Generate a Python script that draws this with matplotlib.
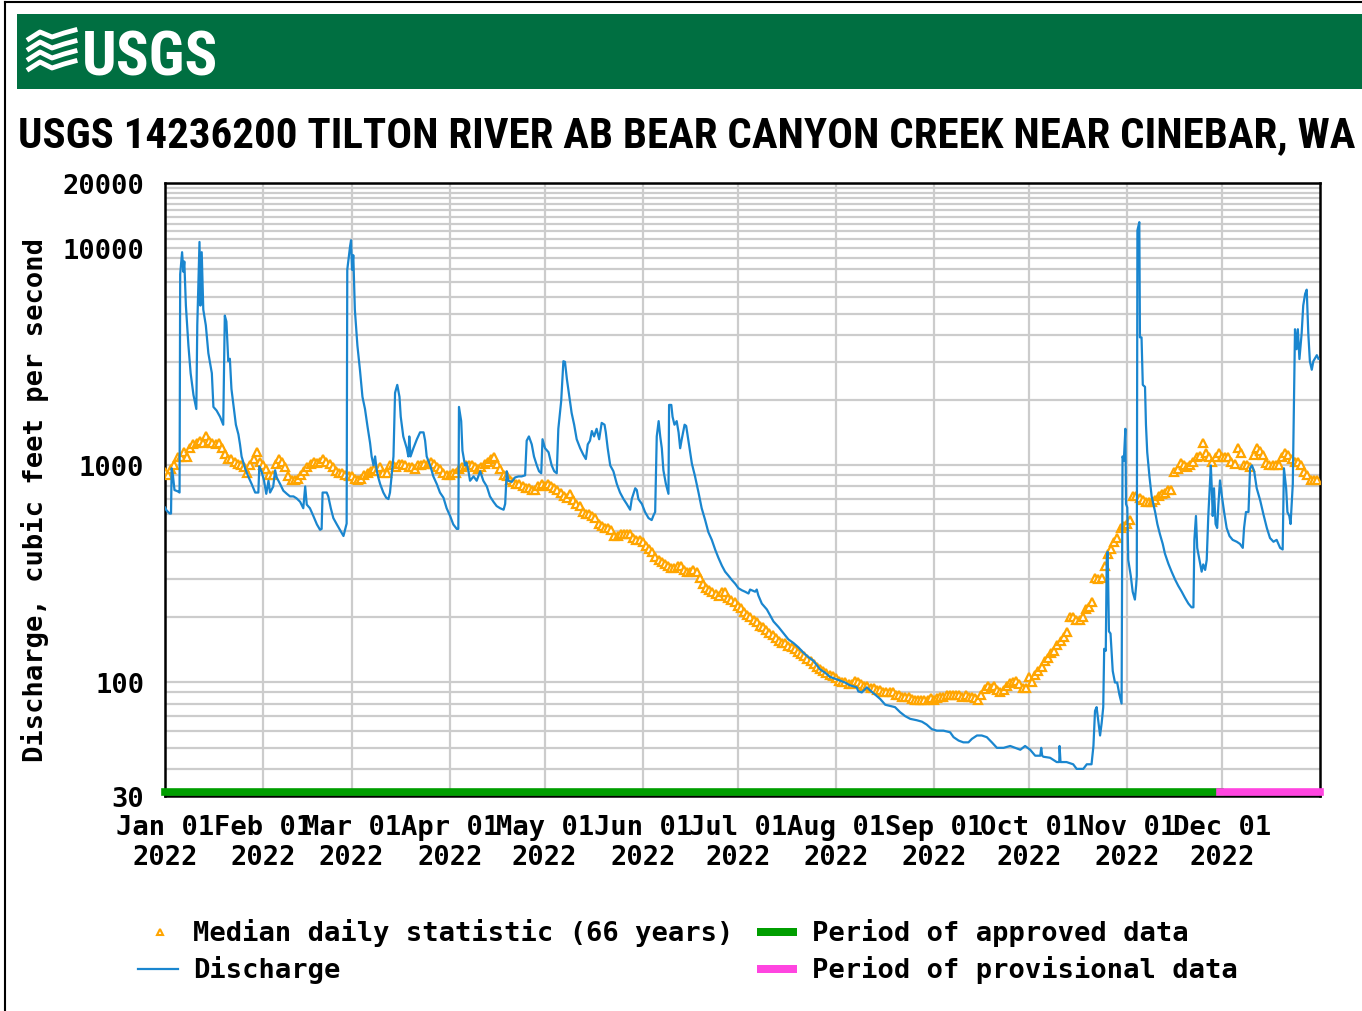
import numpy as np
import matplotlib
matplotlib.use('Agg')
import matplotlib.pyplot as plt
from matplotlib.lines import Line2D
from matplotlib.patches import Rectangle
from matplotlib.transforms import blended_transform_factory
from matplotlib import font_manager as fm

# ---- data ----
title = "USGS 14236200 TILTON RIVER AB BEAR CANYON CREEK NEAR CINEBAR, WA"
y_label = "Discharge, cubic feet per second"
start = np.datetime64('2022-01-01T00:00')
end = np.datetime64('2023-01-01T00:00')
approved_end = np.datetime64('2022-11-30T12:00')

# median daily statistic (66 years), one value per day from Jan 1
median_cfs = [
    930, 900, 960, 1000, 1090, 1090, 1150, 1090, 1200, 1250,
    1270, 1300, 1270, 1360, 1300, 1270, 1250, 1270, 1200, 1130,
    1065, 1065, 1040, 1020, 1000, 980, 920, 1000, 1065, 1150,
    1040, 1000, 960, 900, 900, 1020, 1065, 1040, 980, 890,
    853, 853, 870, 900, 940, 980, 1020, 1040, 1030, 1040,
    1065, 1040, 1020, 980, 940, 920, 920, 900, 890, 890,
    870, 853, 870, 900, 920, 940, 960, 940, 980, 920,
    920, 1000, 1000, 980, 1020, 1020, 1000, 980, 980, 960,
    1000, 1000, 1020, 1020, 1040, 1020, 980, 960, 920, 900,
    900, 920, 920, 960, 980, 1000, 1000, 1000, 980, 960,
    980, 1020, 1040, 1065, 1090, 1020, 960, 900, 890, 853,
    835, 818, 818, 800, 790, 785, 770, 770, 800, 818,
    800, 818, 800, 785, 770, 750, 720, 710, 740, 690,
    665, 650, 610, 600, 597, 585, 570, 537, 525, 515,
    515, 505, 473, 473, 483, 483, 483, 483, 463, 454,
    454, 445, 427, 410, 400, 380, 367, 360, 350, 345,
    338, 338, 345, 345, 330, 324, 324, 330, 324, 304,
    285, 272, 268, 262, 257, 251, 262, 262, 246, 241,
    236, 226, 220, 212, 204, 200, 195, 190, 183, 180,
    175, 169, 165, 160, 155, 152, 152, 148, 145, 142,
    138, 135, 133, 128, 125, 122, 118, 115, 113, 111,
    108, 107, 105, 102, 100, 100, 98, 98, 102, 100,
    98, 96, 96, 94, 94, 92, 92, 90, 90, 90,
    90, 88, 88, 86, 86, 86, 84, 83, 83, 83,
    83, 83, 85, 83, 85, 86, 86, 88, 88, 88,
    88, 88, 86, 88, 86, 86, 85, 83, 88, 93,
    96, 94, 96, 92, 90, 92, 96, 99, 100, 102,
    98, 94, 94, 106, 100, 108, 113, 118, 126, 130,
    137, 140, 149, 155, 162, 170, 200, 200, 195, 195,
    200, 217, 222, 236, 304, 300, 304, 345, 392, 410,
    445, 463, 515, 525, 537, 560, 720, 720, 710, 690,
    680, 680, 680, 690, 720, 740, 750, 770, 770, 930,
    960, 1030, 1000, 980, 1000, 1040, 1090, 1100, 1270, 1145,
    1090, 1040, 1090, 1145, 1090, 1090, 1090, 1040, 1020, 1200,
    1145, 1000, 1000, 980, 1120, 1200, 1170, 1120, 1030, 1000,
    1000, 1000, 1000, 1090, 1145, 1120, 1065, 1040, 1040, 1000,
    930, 900, 853, 853, 853,
]

# discharge: (days since Jan 1, cfs)
q_day = [
    0.0, 0.5, 1.5, 1.9, 2.1, 2.5, 3.0, 4.0, 4.6, 4.8, 5.4, 5.8, 6.1, 6.6, 7.4,
    8.1, 9.0, 9.9, 10.2, 10.9, 11.2, 11.6, 12.1, 12.9, 13.7, 14.8, 15.3, 16.3,
    17.4, 18.4, 18.9, 19.4, 20.0, 20.5, 21.0, 21.8, 22.4, 23.2, 23.7, 24.2,
    25.3, 26.3, 27.4, 28.5, 29.5, 29.8, 30.6, 31.3, 32.0, 32.7, 33.2, 34.2,
    34.8, 35.3, 36.4, 37.4, 38.5, 39.5, 40.6, 41.6, 42.7, 43.7, 44.3, 44.8,
    45.8, 46.9, 48.0, 49.0, 49.5, 49.8, 51.1, 51.6, 52.4, 53.2, 54.3, 55.3,
    56.4, 56.9, 57.4, 57.6, 58.5, 58.8, 59.1, 59.5, 60.0, 60.8, 61.6, 62.4,
    63.2, 64.0, 64.8, 65.3, 65.9, 66.4, 66.9, 67.5, 68.0, 69.0, 69.9, 70.6,
    71.1, 72.2, 72.7, 73.4, 74.1, 74.5, 75.3, 76.4, 76.9, 77.2, 77.6, 78.5,
    79.6, 80.6, 81.7, 82.2, 82.7, 83.8, 84.8, 85.9, 86.9, 88.0, 89.0, 90.1,
    91.1, 92.2, 92.7,
    92.9, 93.6, 94.0, 94.8, 95.3, 95.9, 96.4, 97.5, 98.5, 99.6, 100.6, 101.7,
    102.7, 103.8, 104.8, 105.9, 107.0, 107.5, 108.0, 108.5, 109.6, 110.6,
    111.7, 112.7, 113.8, 114.3, 115.0, 115.9, 116.6, 117.5, 118.2, 118.9,
    119.3, 120.1, 121.2, 122.2, 123.0, 123.8, 124.3, 125.2, 125.9, 126.4,
    127.0, 127.7, 128.5, 129.3, 130.1, 131.2, 132.2, 133.0, 133.6, 134.3,
    134.9, 135.6, 136.4, 137.2, 138.0, 138.9, 139.3, 139.9, 140.7, 141.7,
    142.8, 143.8, 144.9, 145.9, 147.0, 147.5, 148.6, 149.1, 149.6, 150.7,
    151.7, 152.8, 153.8, 154.4, 154.9, 155.4, 156.0, 156.5, 157.0, 157.5,
    158.3, 159.1, 159.3, 160.0, 160.4, 161.0, 161.7, 162.3, 162.8, 163.3,
    164.2, 164.7, 165.4, 166.5, 167.5, 168.6, 169.6, 170.7, 171.7, 172.8,
    173.9, 174.9, 176.0, 177.0, 178.1, 179.1, 180.2, 181.2, 182.3, 183.3,
    184.4,
    184.9, 186.5, 187.0, 187.5, 188.6, 190.2, 191.2, 192.3, 193.9, 195.4,
    197.0, 198.6, 200.2, 201.8, 203.3, 204.9, 206.0, 207.0, 208.6, 210.2,
    211.8, 213.3, 214.9, 216.5, 218.6, 219.1, 220.2, 221.8, 222.8, 224.4,
    226.0, 227.6, 229.2, 230.7, 232.3, 233.9, 235.5, 237.6, 239.2, 240.7,
    242.3, 243.9, 246.0, 248.1, 249.2, 250.8, 252.3, 253.9, 255.0, 256.6,
    258.1, 259.7, 261.3, 262.9, 265.0, 267.1, 268.7, 270.3, 271.8, 273.4,
    275.0, 276.6, 276.9, 277.2, 277.6,
    279.7, 281.8, 282.6, 282.7, 283.0, 284.9, 287.0, 288.1, 290.2, 291.3,
    292.8, 293.4, 293.9, 294.4, 294.9, 295.5, 296.0, 296.5, 296.8, 297.3,
    297.6, 297.9, 298.3, 298.8, 299.5, 300.2, 300.9, 301.6, 302.3, 302.6,
    303.0, 303.5, 303.7, 304.1, 304.4, 305.2, 305.8, 306.5, 306.9, 307.1,
    307.3, 307.6, 307.9, 308.1, 308.6, 309.0, 309.7, 310.0, 310.4, 311.1,
    311.8, 312.9, 313.6, 314.4, 315.3, 316.0, 317.1, 318.1, 319.2, 320.2,
    321.3, 322.3, 323.4, 324.4, 325.0, 325.3, 325.8, 326.2, 326.9, 327.6,
    328.1, 328.7, 329.2, 329.7, 330.5, 330.8, 331.1, 331.5, 332.0, 332.5,
    332.9, 333.4, 334.0, 334.7, 335.5, 336.4, 337.4, 338.7, 339.7, 340.6,
    341.0, 341.6, 342.4, 342.9, 343.5, 344.2, 345.0, 346.1, 347.1, 348.2,
    349.2, 350.3, 351.3, 352.4, 353.2, 353.6, 354.3, 354.7, 355.3, 355.7,
    356.4, 357.1, 357.6, 358.0, 358.5, 359.2, 359.7, 360.3, 360.8, 361.3,
    361.8, 362.4, 362.9, 364.0, 364.5,
]
q_cfs = [
    640, 620, 600, 600, 970, 900, 770, 760, 750, 7600, 9600, 7800, 8700, 5450, 3570,
    2660, 2110, 1820, 4420, 10700, 5450, 9600, 5220, 4420, 3290, 2660, 1860, 1790,
    1675, 1540, 4900, 4600, 3020, 3100, 2250, 1820, 1540, 1390, 1250, 1100,
    970, 890, 820, 750, 750, 990, 930, 850, 740, 850, 750, 800,
    950, 880, 820, 765, 740, 720, 720, 705, 680, 635, 800, 660,
    635, 584, 535, 505, 510, 750, 750, 720, 635, 572, 535, 505,
    473, 505, 540, 7970, 10250, 10900, 7970, 9300, 5220, 3570, 2760, 2070,
    1820, 1510, 1270, 1100, 1000, 1100, 950, 870, 820, 750, 710, 700,
    750, 1100, 2160, 2350, 2070, 1675, 1360, 1200, 1100, 1360, 1100, 1200,
    1320, 1420, 1420, 1300, 1100, 1000, 890, 820, 750, 710, 635, 585,
    535, 510, 510,
    1860, 1600, 1170, 1000, 1030, 940, 850, 890, 850, 940, 850, 800,
    720, 680, 650, 635, 625, 665, 940, 850, 840, 880,
    890, 890, 900, 1300, 1360, 1250, 1100, 1000, 940, 920,
    1320, 1200, 1150, 1000, 940, 920, 1475, 1980, 3020, 3000,
    2500, 2110, 1745, 1540, 1320, 1200, 1120, 1070, 1250, 1300,
    1440, 1360, 1475, 1320, 1570, 1540, 1420, 1200, 1000, 940,
    820, 750, 700, 665, 625, 700, 785, 770, 700, 665,
    610, 572, 560, 590, 610, 1360, 1600, 1360, 1200, 950,
    820, 740, 1900, 1900, 1675, 1540, 1600, 1420, 1200, 1320,
    1540, 1520, 1300, 1020, 890, 750, 635, 560, 493, 454,
    408, 375, 345, 324, 310, 297, 285, 272, 266, 262,
    257,
    268, 262, 268, 252, 231, 217, 204, 191, 180, 169,
    158, 152, 145, 137, 131, 126, 120, 115, 111, 106,
    104, 102, 100, 97, 95, 91, 90, 95, 92, 88,
    84, 79, 78, 77, 73, 70, 68, 67, 66, 64,
    61, 60, 60, 59, 56, 54, 53, 53, 55, 57,
    57, 56, 53, 50, 50, 51, 50, 49, 51, 49,
    46, 46, 50, 46, 45.5,
    45, 43, 43, 51, 43, 43, 42, 40, 40, 42,
    42, 51, 74, 77, 67, 57, 65, 77, 143, 140,
    367, 400, 172, 168, 113, 100, 100, 88, 80, 1100,
    1050, 1475, 664, 640, 367, 310, 262, 241, 280, 310,
    12100, 12650, 13200, 3890, 3890, 2350, 2300, 1540, 1150, 890,
    720, 610, 537, 483, 435, 392, 352, 324, 298, 279,
    262, 246, 231, 222, 222, 454, 585, 417, 367, 324,
    350, 330, 367, 585, 1000, 785, 585, 785, 537, 515,
    664, 853, 720, 610, 515, 473, 454, 445, 435, 417,
    515, 610, 610, 970, 1000, 940, 785, 690, 597, 515,
    463, 445, 454, 417, 410, 970, 785, 610, 585, 537,
    820, 4240, 3430, 4240, 3090, 4060, 5450, 6170, 6450, 4060,
    3020, 2760, 3020, 3220, 3100,
]

y_major = [30, 100, 1000, 10000, 20000]
y_minor = [40, 50, 60, 70, 80, 90,
           200, 300, 400, 500, 600, 700, 800, 900,
           2000, 3000, 4000, 5000, 6000, 7000, 8000, 9000,
           11000, 12000, 13000, 14000, 15000, 16000, 17000, 18000, 19000]

# ---- styling ----
W, H = 1362, 1012
plt.rcParams['font.family'] = ['DejaVu Sans Mono']
plt.rcParams['font.weight'] = 'bold'
plt.rcParams['font.size'] = 19.5

blue = '#1A86CF'
orange = '#FFA500'
green_bar = '#009E00'
pink_bar = '#FF45E0'
grid_c = '#CCCCCC'


def condensed_bold():
    # look for an installed narrow / condensed bold sans face for the header
    best = None
    for f in fm.fontManager.ttflist:
        nm = f.name.lower()
        st = f.stretch if isinstance(f.stretch, int) else fm.stretch_dict.get(str(f.stretch), 500)
        wt = f.weight if isinstance(f.weight, int) else fm.weight_dict.get(str(f.weight), 400)
        narrow = 'narrow' in nm or 'condensed' in nm or st < 500
        if not narrow or wt < 600 or 'mono' in nm or 'serif' in nm:
            continue
        rank = 0 if 'liberation' in nm else 1 if 'roboto' in nm else 2 if 'dejavu' in nm else 3
        if 'extra' in nm or 'ultra' in nm or st < 300:
            rank += 5
        if best is None or rank < best[0]:
            best = (rank, f.fname)
    if best is None:
        return fm.FontProperties(family='DejaVu Sans', weight='bold')
    return fm.FontProperties(fname=best[1])


head_font = condensed_bold()


def fx(x):
    return x / W


def fy(y):
    return 1 - y / H


fig = plt.figure(figsize=(W / 100, H / 100), dpi=100)
ax = fig.add_axes([fx(165), fy(797), (1320 - 165) / W, (797 - 184) / H])

q_t = start + np.round(np.array(q_day) * 1440).astype('timedelta64[m]')
med_t = start + np.arange(len(median_cfs)).astype('timedelta64[D]')

ax.plot(med_t, median_cfs, linestyle='none', marker='^', ms=5.2, mfc='white',
        mec=orange, mew=1.6, zorder=3)
ax.plot(q_t, q_cfs, color=blue, lw=1.6, zorder=4)

ax.set_yscale('log')
ax.set_ylim(30, 20000)
ax.set_xlim(start, end)
ax.set_yticks(y_major)
ax.set_yticklabels([str(v) for v in y_major])
ax.set_yticks(y_minor, minor=True)
ax.yaxis.set_minor_formatter(plt.NullFormatter())

months = np.arange('2022-01', '2023-01', dtype='datetime64[M]')
month_t = months.astype('datetime64[m]')
ax.set_xticks(month_t)
ax.set_xticklabels([m.astype(object).strftime('%b %d\n%Y') for m in months],
                   linespacing=1.2)

ax.grid(True, which='both', color=grid_c, lw=1.6, zorder=0)
ax.set_axisbelow(True)
ax.tick_params(which='both', length=0)
ax.tick_params(axis='y', pad=15)
ax.tick_params(axis='x', pad=13)
for s in ax.spines.values():
    s.set_linewidth(1.8)
    s.set_color('black')

# approved / provisional bar
tr = blended_transform_factory(ax.transData, ax.transAxes)
ax.plot([start, approved_end], [0.007, 0.007], color=green_bar, lw=5.5,
        transform=tr, clip_on=False, solid_capstyle='projecting', zorder=6)
ax.plot([approved_end, end], [0.007, 0.007], color=pink_bar, lw=5.5,
        transform=tr, clip_on=False, solid_capstyle='projecting', zorder=6)

fig.text(fx(35), fy(500), y_label, rotation=90, ha='center', va='center')

# header banner
fig.add_artist(Rectangle((fx(17), fy(90)), 1 - fx(17), (90 - 15) / H,
                         transform=fig.transFigure, color='#006F41', lw=0))
for pts in ([(29, 40), (40, 33), (52, 38), (64, 34), (75, 31)],
            [(29, 50), (40, 43), (52, 49), (64, 45), (75, 42)],
            [(29, 60), (40, 53), (52, 59), (64, 55), (75, 52)],
            [(29, 70), (40, 63), (52, 69), (64, 65), (75, 62)]):
    xs, ys = zip(*pts)
    fig.add_artist(Line2D([fx(v) for v in xs], [fy(v) for v in ys],
                          color='white', lw=3.5, transform=fig.transFigure))
logo = fig.text(fx(82), fy(75), 'USGS', color='white', ha='left', va='baseline',
                fontproperties=head_font, fontsize=46)
ttl = fig.text(fx(18), fy(147), title, ha='left', va='baseline',
               fontproperties=head_font, fontsize=32)

# frame lines
fig.add_artist(Line2D([fx(5), fx(5)], [fy(3), 0], color='black', lw=1.5,
                      transform=fig.transFigure))
fig.add_artist(Line2D([fx(5), 1], [fy(3), fy(3)], color='black', lw=1.5,
                      transform=fig.transFigure))

# legend
fig.add_artist(Line2D([fx(160)], [fy(933)], marker='^', ms=4.5, mfc='white',
                      mec=orange, mew=1.5, linestyle='none',
                      transform=fig.transFigure))
fig.text(fx(193), fy(933), 'Median daily statistic (66 years)', va='center')
fig.add_artist(Line2D([fx(138), fx(178)], [fy(970), fy(970)], color=blue, lw=1.6,
                      transform=fig.transFigure))
fig.text(fx(193), fy(970), 'Discharge', va='center')
fig.add_artist(Rectangle((fx(757), fy(937)), 40 / W, 8 / H, color=green_bar, lw=0,
                         transform=fig.transFigure))
fig.text(fx(812), fy(933), 'Period of approved data', va='center')
fig.add_artist(Rectangle((fx(757), fy(974)), 40 / W, 8 / H, color=pink_bar, lw=0,
                         transform=fig.transFigure))
fig.text(fx(812), fy(970), 'Period of provisional data', va='center')

# fit header texts to the reference widths
r = fig.canvas.get_renderer()
for t, w in ((ttl, 1340), (logo, 136)):
    bb = t.get_window_extent(renderer=r)
    t.set_fontsize(t.get_fontsize() * w / bb.width)

fig.savefig('out.png', dpi=100)
